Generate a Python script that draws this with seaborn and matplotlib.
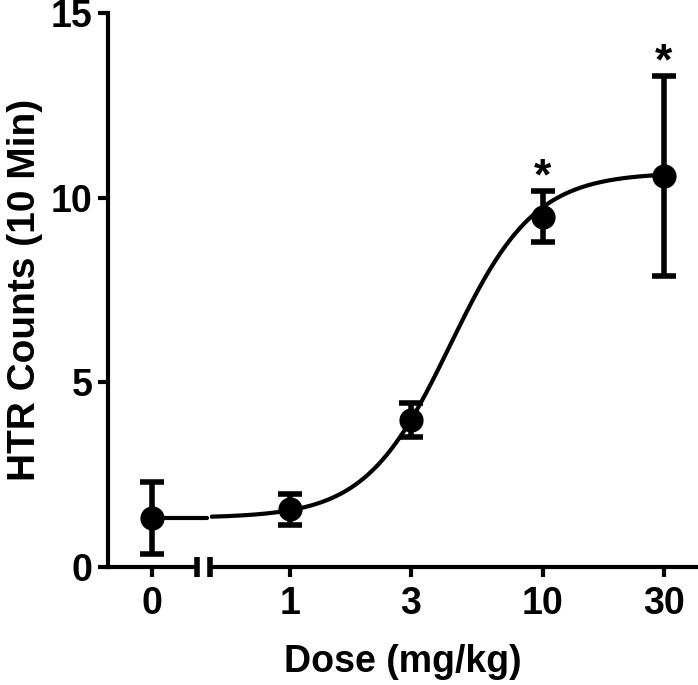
import numpy as np
import pandas as pd
import matplotlib
matplotlib.use("Agg")
import matplotlib.pyplot as plt
import seaborn as sns

sns.set_style("ticks")
plt.rcParams['font.family'] = ['Liberation Sans', 'DejaVu Sans']
plt.rcParams['font.weight'] = 'bold'
for k in ("text.color", "axes.labelcolor", "xtick.color", "ytick.color", "axes.edgecolor"):
    plt.rcParams[k] = "black"

# data
dose = [0, 1, 3, 10, 30]
htr_mean = [1.32, 1.56, 3.98, 9.49, 10.58]
htr_sem = [0.98, 0.41, 0.46, 0.69, 2.71]
signif = [False, False, False, True, True]
dose_labels = ["0", "1", "3", "10", "30"]

# sigmoid fit (bottom, top, log EC50, hill slope)
fit_bottom, fit_top, fit_logec50, fit_hill = 1.33, 10.68, 0.633, 2.6

df = pd.DataFrame({"dose": dose, "htr": htr_mean, "sem": htr_sem, "sig": signif})


def hill(x):
    return fit_bottom + (fit_top - fit_bottom) / (1 + 10 ** ((fit_logec50 - np.log10(x)) * fit_hill))


fig = plt.figure(figsize=(6.98, 6.85), dpi=100)
ax0 = fig.add_axes([108 / 698, 118 / 685, 89 / 698, 554 / 685])
ax1 = fig.add_axes([210 / 698, 118 / 685, 488 / 698, 554 / 685], sharey=ax0)

lw = 3.0
fs = 27

# zero dose panel
zero = df[df.dose == 0]
ax0.plot([0, 0.62], [fit_bottom, fit_bottom], color="black", lw=lw, clip_on=False)
ax0.errorbar(zero.dose, zero.htr, yerr=zero["sem"], fmt="none", ecolor="black",
             elinewidth=4, capsize=8.5, capthick=4, clip_on=False)
sns.scatterplot(data=zero, x="dose", y="htr", ax=ax0, color="black", s=260,
                edgecolor="black", clip_on=False, zorder=5)
ax0.set_xlim(-0.491, 0.509)

# log dose panel
rest = df[df.dose > 0]
xs = np.logspace(np.log10(0.49), np.log10(30), 300)
curve = pd.DataFrame({"dose": xs, "htr": hill(xs)})
sns.lineplot(data=curve, x="dose", y="htr", ax=ax1, color="black", lw=lw)
ax1.errorbar(rest.dose, rest.htr, yerr=rest["sem"], fmt="none", ecolor="black",
             elinewidth=4, capsize=8.5, capthick=4, clip_on=False)
sns.scatterplot(data=rest, x="dose", y="htr", ax=ax1, color="black", s=260,
                edgecolor="black", clip_on=False, zorder=5)
ax1.set_xscale("log")
ax1.set_xlim(0.483, 41.0)

for _, r in df[df.sig].iterrows():
    ax1.text(r.dose, r.htr + r["sem"] - 0.2, "*", ha="center", va="bottom",
             fontsize=32, fontweight="bold")

ax0.set_ylim(0, 15)
ax0.set_yticks([0, 5, 10, 15])
ax0.set_xticks([0])
ax0.set_xticklabels([dose_labels[0]])
ax1.set_xticks(dose[1:])
ax1.set_xticklabels(dose_labels[1:])
ax1.minorticks_off()

for ax in (ax0, ax1):
    for side in ("top", "right"):
        ax.spines[side].set_visible(False)
    ax.spines["bottom"].set_linewidth(lw)
    ax.spines["left"].set_linewidth(lw)
    ax.tick_params(width=lw, length=7, labelsize=fs, pad=7)
    ax.set_xlabel("")
    ax.set_ylabel("")
    for lab in ax.get_xticklabels() + ax.get_yticklabels():
        lab.set_fontweight("bold")
ax1.spines["left"].set_visible(False)
ax1.tick_params(axis="y", left=False, labelleft=False)
ax0.tick_params(axis="y", pad=4)

# break caps on the axis line
ax0.plot([1], [0], marker="|", ms=14, mew=lw + 1, color="black",
         transform=ax0.transAxes, clip_on=False)
ax1.plot([0], [0], marker="|", ms=14, mew=lw + 1, color="black",
         transform=ax1.transAxes, clip_on=False)

ax0.set_ylabel("HTR Counts (10 Min)", fontsize=28, fontweight="bold", labelpad=6)
fig.text(403 / 698, 1 - 662 / 685, "Dose (mg/kg)", ha="center", va="center",
         fontsize=fs, fontweight="bold")

fig.savefig("out.png", dpi=100)
